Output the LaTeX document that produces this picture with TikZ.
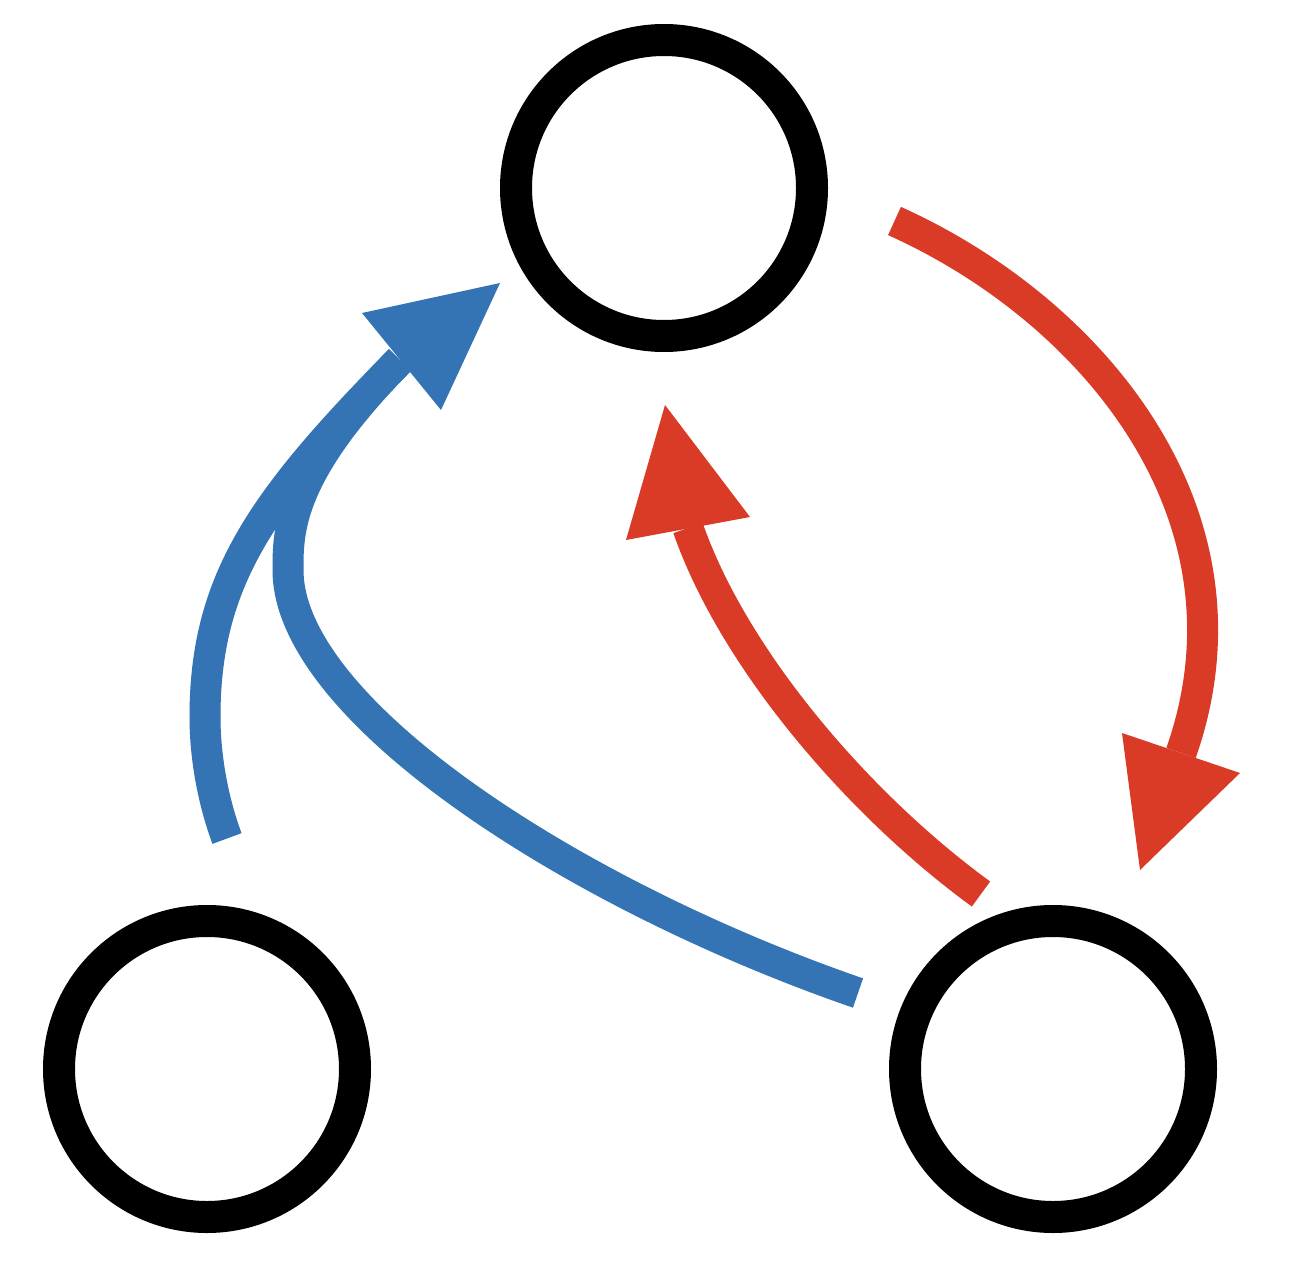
\documentclass[tikz,border=0pt]{standalone}
\definecolor{cblue}{RGB}{52,116,180}
\definecolor{cred}{RGB}{218,59,38}
\begin{document}
\begin{tikzpicture}[x=1pt,y=-1pt,
  state/.style={circle,draw=black,line width=32pt,minimum size=296pt,inner sep=0pt},
  blueline/.style={draw=cblue,line width=31pt},
  redline/.style={draw=cred,line width=31pt},
  bluehead/.style={fill=cblue},
  redhead/.style={fill=cred}]
\useasboundingbox (0,0) rectangle (1290,1276);
\fill[white] (0,0) rectangle (1290,1276);
% states
\node[state] (top) at (664,188) {};
\node[state] (bl) at (207,1069) {};
\node[state] (br) at (1053,1069) {};
% blue arrows (shared head)
\coordinate (btip) at (500,283);
\coordinate (bbase) at (400,360);
\coordinate (bs1) at (227,838.5);
\coordinate (bs2) at (858,993);
\draw[blueline] (bs1) .. controls (213,801) and (205,757) .. (205,717)
  .. controls (205,580) and (262,500) .. (bbase);
\draw[blueline] (bs2) .. controls (574,895) and (288,710) .. (288,570)
  .. controls (288,530) and (288,473.6) .. (bbase);
\fill[bluehead] (btip) -- (362,313) -- (441,410) -- cycle;
% red arrow 1 (top -> bottom right)
\coordinate (r1s) at (894.5,221);
\coordinate (r1base) at (1181,753);
\coordinate (r1tip) at (1140,870);
\draw[redline] (r1s) .. controls (1094.7,311.2) and (1264,517) .. (r1base);
\fill[redhead] (r1tip) -- (1122,733) -- (1240,773) -- cycle;
% red arrow 2 (bottom right -> top)
\coordinate (r2s) at (981,894);
\coordinate (r2base) at (688,528);
\coordinate (r2tip) at (665,405);
\draw[redline] (r2s) .. controls (859.5,805.5) and (734,660) .. (r2base);
\fill[redhead] (r2tip) -- (626,540) -- (750,517) -- cycle;
\end{tikzpicture}
\end{document}
